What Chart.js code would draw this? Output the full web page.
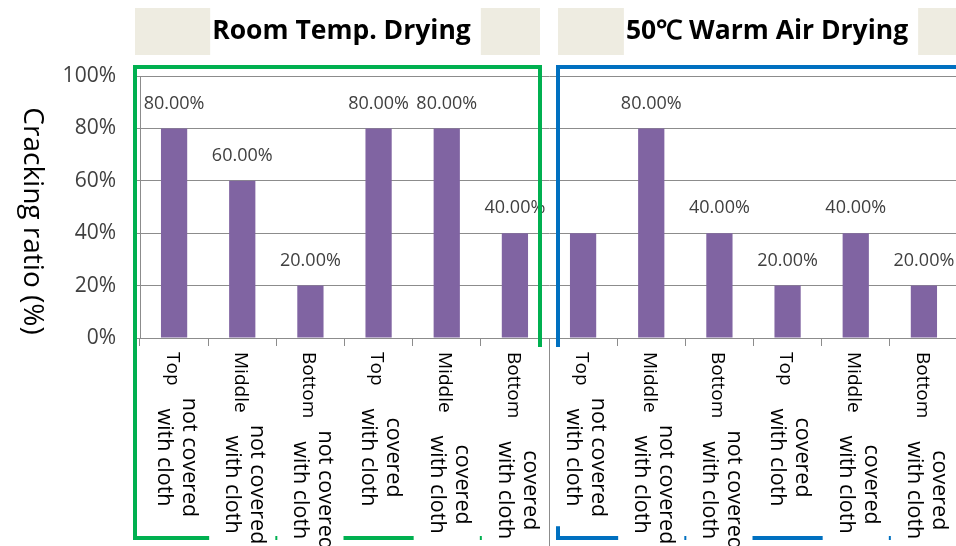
<!DOCTYPE html>
<html>
<head>
<meta charset="utf-8">
<script src="https://cdn.jsdelivr.net/npm/chart.js@4.4.1/dist/chart.umd.min.js"></script>
<style>
  html, body { margin: 0; padding: 0; overflow: hidden; background: #fff; }
  canvas { display: block; }
</style>
</head>
<body>
<canvas id="crackChart" width="958" height="546"></canvas>
<script>
const groupTitles = ['Room Temp. Drying', '50℃ Warm Air Drying']
const positions = ['Top', 'Middle', 'Bottom', 'Top', 'Middle', 'Bottom', 'Top', 'Middle', 'Bottom', 'Top', 'Middle', 'Bottom']
const covering = ['not covered', 'not covered', 'not covered', 'covered', 'covered', 'covered',
                  'not covered', 'not covered', 'not covered', 'covered', 'covered', 'covered']
const clothLine = 'with cloth'
const crackingRatio = [80, 60, 20, 80, 80, 40, 40, 80, 40, 20, 40, 20]
const valueLabels = ['80.00%', '60.00%', '20.00%', '80.00%', '80.00%', '40.00%',
                     '', '80.00%', '40.00%', '20.00%', '40.00%', '20.00%']
const yTicks = [0, 20, 40, 60, 80, 100]
const yTitle = 'Cracking ratio (%)'

const FONT = '"Open Sans", sans-serif'
const GRID = '#8c8c8c'

// everything Excel drew around the plot: titles, boxes, rotated labels
const decorations = {
    id: 'decorations',
    beforeDraw(chart) {
        const ctx = chart.ctx
        ctx.save()
        ctx.fillStyle = '#fff'
        ctx.fillRect(0, 0, chart.width, chart.height)
        ctx.restore()
    },
    afterDraw(chart) {
        const ctx = chart.ctx
        const x = chart.scales.x
        const area = chart.chartArea
        const half = (x.getPixelForTick(1) - x.getPixelForTick(0)) / 2
        const boxes = [
            {left: x.getPixelForTick(0) - half - 5, right: x.getPixelForTick(5) + half - 9, color: '#00B050'},
            {left: x.getPixelForTick(6) - half + 9, right: chart.width + 10, color: '#0070C0'}
        ]
        ctx.save()

        // value labels above the bars
        const meta = chart.getDatasetMeta(0)
        ctx.fillStyle = '#404040'
        ctx.font = '18px ' + FONT
        ctx.textAlign = 'center'
        ctx.textBaseline = 'middle'
        meta.data.forEach((bar, i) => {
            if (valueLabels[i]) ctx.fillText(valueLabels[i], bar.x, bar.y - 25)
        })

        // group titles on beige bars
        boxes.forEach((b, g) => {
            ctx.fillStyle = '#EEECE1'
            ctx.fillRect(b.left, 8, b.right - b.left, 47)
            ctx.font = 'bold 26.5px ' + FONT
            const w = ctx.measureText(groupTitles[g]).width
            const cx = (b.left + b.right) / 2 + 4
            ctx.fillStyle = '#fff'
            ctx.fillRect(cx - w / 2 - 2, 8, w + 12, 47)
            ctx.fillStyle = '#000'
            ctx.fillText(groupTitles[g], cx, 31)
        })

        // green / blue frames
        ctx.lineWidth = 4
        boxes.forEach((b) => {
            ctx.strokeStyle = b.color
            ctx.strokeRect(b.left, 67, b.right - b.left, 471)
        })

        // rotated category labels
        ctx.textBaseline = 'middle'
        positions.forEach((p, i) => {
            const cx = x.getPixelForTick(i)
            ctx.font = '19px ' + FONT
            const wA = ctx.measureText(p).width
            ctx.font = '21.5px ' + FONT
            const wB = ctx.measureText(covering[i]).width
            const wC = ctx.measureText(clothLine).width
            const mid = 352 + wA + 72
            const end = Math.max(352 + wA, mid + wB / 2, mid + wC / 2)
            ctx.fillStyle = '#fff'
            ctx.fillRect(cx - half + 1, area.bottom + 9, half * 2 - 2, end + 9 - area.bottom - 9)

            ctx.fillStyle = '#000'
            const put = (txt, px, py, align, size) => {
                ctx.save()
                ctx.font = size + 'px ' + FONT
                ctx.translate(px, py)
                ctx.rotate(Math.PI / 2)
                ctx.textAlign = align
                ctx.fillText(txt, 0, 0)
                ctx.restore()
            }
            put(p, cx - 2, 352, 'left', 19)
            put(covering[i], cx + 15, mid, 'center', 21.5)
            put(clothLine, cx - 10, mid, 'center', 21.5)
        })

        // separator between the two drying groups
        const sep = x.getPixelForTick(5) + half
        ctx.strokeStyle = GRID
        ctx.lineWidth = 1
        ctx.beginPath()
        ctx.moveTo(sep + 0.5, area.bottom)
        ctx.lineTo(sep + 0.5, chart.height)
        ctx.stroke()

        // y axis title, reading top to bottom
        ctx.save()
        ctx.fillStyle = '#000'
        ctx.font = '28px ' + FONT
        ctx.translate(32, 221)
        ctx.rotate(Math.PI / 2)
        ctx.textAlign = 'center'
        ctx.fillText(yTitle, 0, 0)
        ctx.restore()

        ctx.restore()
    }
}

const ctxChart = document.getElementById('crackChart')

new Chart(ctxChart, {
    type: 'bar',
    data: {
        labels: positions.map((p, i) => p + ' ' + covering[i] + ' ' + clothLine),
        datasets: [{
            label: yTitle,
            data: crackingRatio,
            backgroundColor: '#8064A2',
            borderWidth: 0,
            categoryPercentage: 1,
            barPercentage: 0.385
        }]
    },
    options: {
        responsive: false,
        animation: false,
        devicePixelRatio: 1,
        layout: {padding: {top: 76, left: 0, right: 0, bottom: 0}},
        plugins: {
            legend: {display: false},
            tooltip: {enabled: false}
        },
        scales: {
            x: {
                ticks: {display: false},
                grid: {display: true, drawOnChartArea: false, drawTicks: true, tickLength: 8, color: GRID},
                border: {display: true, color: GRID},
                afterFit: (s) => { s.height = 208 }
            },
            y: {
                min: 0,
                max: 100,
                afterBuildTicks: (s) => { s.ticks = yTicks.map(v => ({value: v})) },
                ticks: {
                    callback: (v) => v + '%',
                    color: '#404040',
                    font: {family: FONT, size: 21},
                    padding: 18
                },
                grid: {color: GRID, tickLength: 6},
                border: {display: true, color: GRID},
                afterFit: (s) => { s.width = 140 }
            }
        }
    },
    plugins: [decorations]
})
</script>
</body>
</html>
